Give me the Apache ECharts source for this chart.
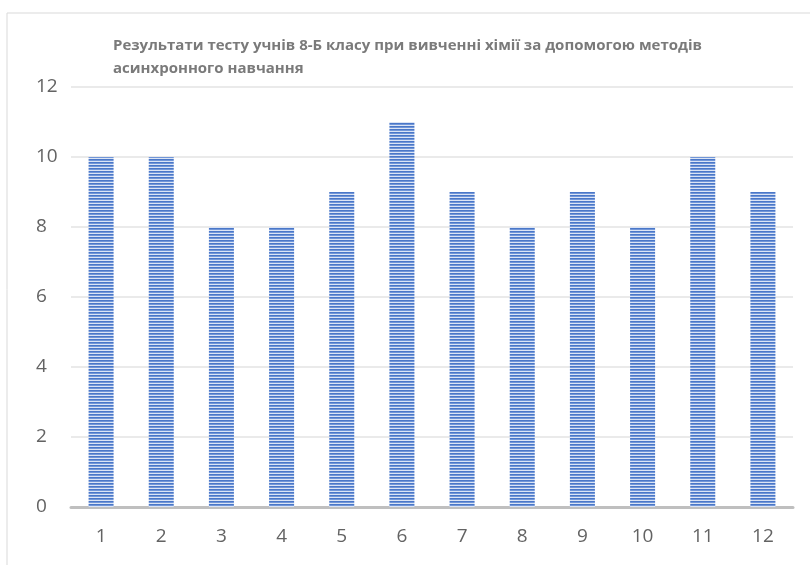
<!DOCTYPE html>
<html>
<head>
<meta charset="utf-8">
<script src="https://cdn.jsdelivr.net/npm/echarts@6/dist/echarts.min.js"></script>
<style>
  html, body { margin: 0; padding: 0; background: #fff; }
  #main { width: 810px; height: 565px; }
</style>
</head>
<body>
<div id="main"></div>
<script>
// дані діаграми
var categories = ['1', '2', '3', '4', '5', '6', '7', '8', '9', '10', '11', '12'];
var scores = [10, 10, 8, 8, 9, 11, 9, 8, 9, 8, 10, 9];
var titleText = 'Результати тесту учнів 8-Б класу при вивченні хімії за допомогою методів\nасинхронного навчання';

// смужкова заливка стовпців
var stripe = document.createElement('canvas');
stripe.width = 4;
stripe.height = 3;
var ctx = stripe.getContext('2d');
ctx.fillStyle = '#4a77c8';
ctx.fillRect(0, 0, 4, 1);
ctx.fillStyle = '#7196d8';
ctx.fillRect(0, 1, 4, 1);
ctx.fillStyle = '#dbe4f5';
ctx.fillRect(0, 2, 4, 1);

var myChart = echarts.init(document.getElementById('main'));
myChart.setOption({
    animation: false,
    backgroundColor: '#fff',
    graphic: [{
        type: 'rect',
        shape: { x: 7, y: 13, width: 900, height: 600 },
        style: { fill: 'none', stroke: '#d9d9d9', lineWidth: 1 },
        silent: true
    }],
    title: {
        text: titleText,
        left: 108,
        top: 29,
        textStyle: {
            fontFamily: 'Liberation Sans Narrow, Open Sans',
            fontSize: 15,
            fontWeight: 'bold',
            color: '#7a7a7a',
            lineHeight: 23
        }
    },
    grid: { left: 71, right: 17, top: 87, bottom: 58 },
    xAxis: {
        type: 'category',
        data: categories,
        axisLine: { lineStyle: { color: '#bfbfbf', width: 3 } },
        axisTick: { show: false },
        axisLabel: {
            color: '#636363',
            fontSize: 19,
            fontFamily: 'Open Sans',
            margin: 20
        }
    },
    yAxis: {
        type: 'value',
        min: 0,
        max: 12,
        interval: 2,
        axisLine: { show: false },
        axisTick: { show: false },
        splitLine: { lineStyle: { color: '#e3e3e3', width: 1.5 } },
        axisLabel: {
            color: '#636363',
            fontSize: 19,
            fontFamily: 'Open Sans',
            align: 'left',
            margin: 35
        }
    },
    series: [{
        type: 'bar',
        data: scores,
        barWidth: 25,
        itemStyle: {
            color: { image: stripe, repeat: 'repeat' }
        }
    }]
});
</script>
</body>
</html>
